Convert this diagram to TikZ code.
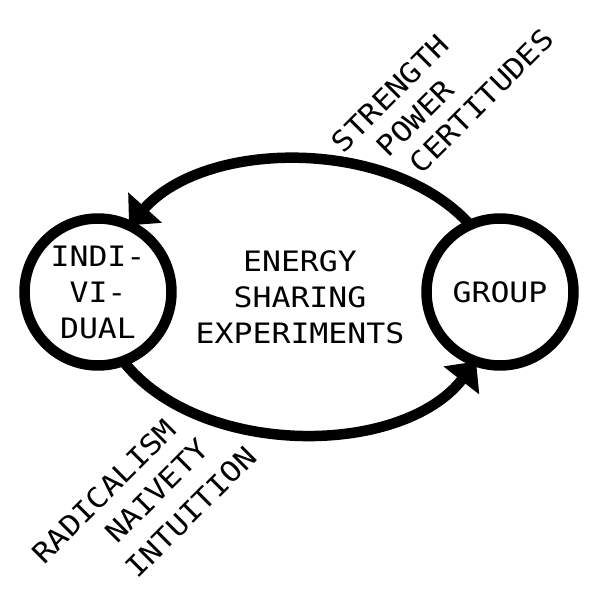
\documentclass[tikz,border=0pt]{standalone}
\usepackage{fontspec}
\newfontfamily\labelfont[FakeStretch=1.12]{DejaVu Sans Mono}
\usetikzlibrary{arrows.meta}

\begin{document}
\begin{tikzpicture}[x=0.02cm, y=0.02cm, >={Triangle[length=0.48cm,width=0.88cm]},
    every node/.style={font=\labelfont\fontsize{16}{20.5}\selectfont, align=center},
    ring/.style={circle,draw,line width=0.21cm,inner sep=0pt,outer sep=0pt,minimum size=2.94cm},
    flow/.style={->,line width=0.21cm}]
    \useasboundingbox (0,0) rectangle (600,600);
    % 两个圆和中间文字
    \node[ring] (indiv) at (98,308) {INDI-\\VI-\\DUAL};
    \node[ring] (group) at (500,308) {GROUP};
    \node (energy) at (300,303) {ENERGY\\SHARING\\EXPERIMENTS};

    % 斜写的词
    \node[rotate=45] (strength) at (390.3,506.7) {STRENGTH};
    \node[rotate=45] (power) at (415.1,481.9) {POWER};
    \node[rotate=45] (certitudes) at (481.5,498.9) {CERTITUDES};
    \node[rotate=45] (radicalism) at (104,108.5) {RADICALISM};
    \node[rotate=45] (naivety) at (157,109.2) {NAIVETY};
    \node[rotate=45] (intuition) at (191,88) {INTUITION};

    \draw[flow] (group.114) to[out=132,in=48,looseness=0.88] (indiv.65);
    \draw[flow] (indiv.290) to[out=308,in=232,looseness=0.89] (group.251);
\end{tikzpicture}
\end{document}
